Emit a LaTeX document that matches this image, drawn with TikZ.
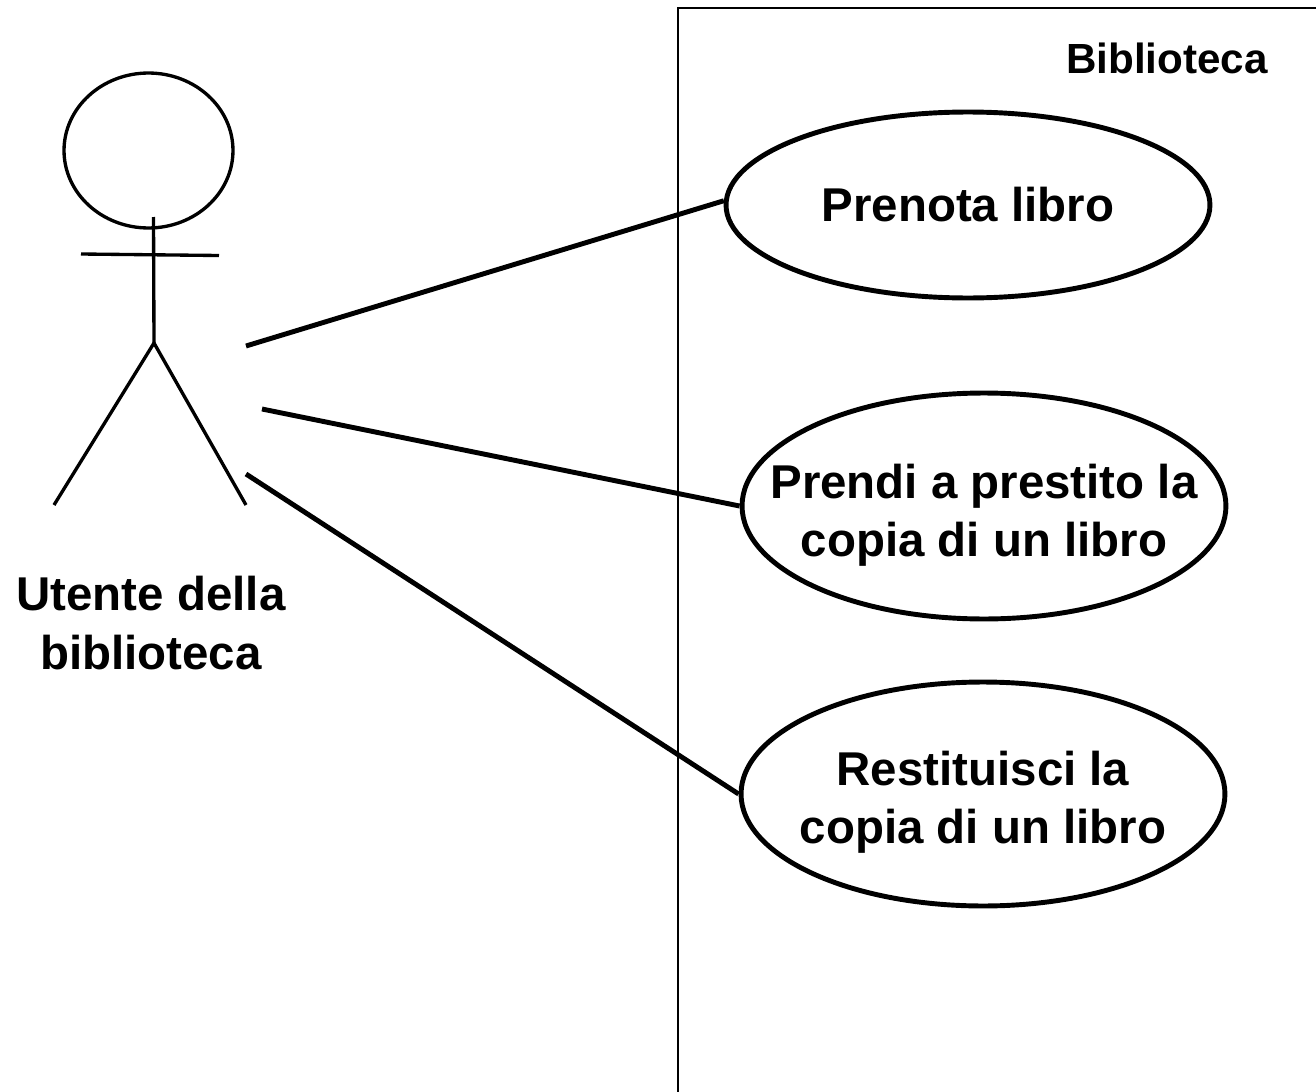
\documentclass[tikz,border=0pt]{standalone}
\usepackage{fontspec}
\setmainfont{Liberation Sans}
\usetikzlibrary{shapes.geometric}
\newcommand{\uctext}[2][0cm]{\makebox[0pt]{\raisebox{#1}[0pt][0pt]{\begin{tabular}[c]{@{}c@{}}#2\end{tabular}}}}
\tikzset{
    usecase/.style={ellipse, draw, line width=2.8pt, minimum width=9.68cm, inner sep=0pt, font=\fontsize{27}{33.2}\selectfont\bfseries},
    actorline/.style={line width=1.9pt},
    assoc/.style={line width=2.8pt}
}

\begin{document}
\begin{tikzpicture}[x=0.02cm, y=-0.02cm]
    \useasboundingbox (0,0) rectangle (1316,1092);

    % System
    \coordinate (sysbl) at (678,1092);
    \coordinate (systl) at (678,8);
    \coordinate (systr) at (1316,8);
    \draw[line width=1.1pt] (sysbl) -- (systl) -- (systr);
    \node[font=\fontsize{24}{28}\selectfont\bfseries] (sysname) at (1167,58) {Biblioteca};

    % Actor
    \node[ellipse, draw, actorline, minimum width=3.38cm, minimum height=3.1cm, inner sep=0pt] (head) at (148.5,150.5) {};
    \coordinate (neck) at (153.5,217);
    \coordinate (hip) at (154,343);
    \coordinate (arml) at (81,254);
    \coordinate (armr) at (219,255.5);
    \coordinate (footl) at (54,505);
    \coordinate (footr) at (246,505);
    \draw[actorline] (neck) -- (hip);
    \draw[actorline] (arml) -- (armr);
    \draw[actorline] (footl) -- (hip) -- (footr);
    \node[align=center, font=\fontsize{27}{33.2}\selectfont\bfseries] (actor) at (151,623) {Utente della\\biblioteca};

    % Use cases
    \node[usecase, minimum height=3.72cm] (uc1) at (968,205) {\uctext[-0.32cm]{Prenota libro}};
    \node[usecase, minimum height=4.52cm] (uc2) at (984,506) {\uctext[-0.41cm]{Prendi a prestito la\\copia di un libro}};
    \node[usecase, minimum height=4.48cm] (uc3) at (983,794) {\uctext[-0.4cm]{Restituisci la\\copia di un libro}};

    % Associations
    \coordinate (a1) at (246,346);
    \coordinate (a2) at (262,409);
    \coordinate (a3) at (246,474);
    \draw[assoc] (a1) -- (uc1.179);
    \draw[assoc] (a2) -- (uc2.west);
    \draw[assoc] (a3) -- (uc3.west);
\end{tikzpicture}
\end{document}
